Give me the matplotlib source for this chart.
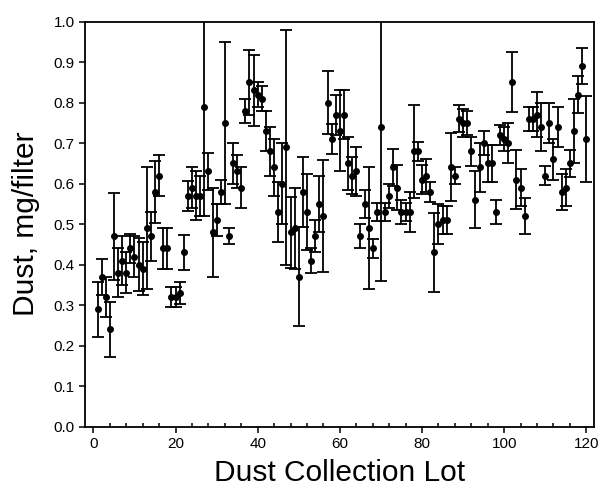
#%%
# ===============================================================
# ! Dust per filter with error bars, by collection lot
# ===============================================================
import numpy as np
import matplotlib
matplotlib.use("Agg")
import matplotlib.pyplot as plt
from matplotlib.ticker import MultipleLocator, FormatStrFormatter

# Lot numbers
lots = np.arange(1, 121)

# Mean dust (mg/filter)
dust = [0.29, 0.37, 0.32, 0.24, 0.47, 0.38, 0.41, 0.38, 0.44, 0.42,
        0.40, 0.39, 0.49, 0.47, 0.58, 0.62, 0.44, 0.44, 0.32, 0.32,
        0.33, 0.43, 0.57, 0.59, 0.57, 0.57, 0.79, 0.63, 0.48, 0.51,
        0.58, 0.75, 0.47, 0.65, 0.63, 0.59, 0.78, 0.85, 0.83, 0.82,
        0.81, 0.73, 0.68, 0.64, 0.53, 0.60, 0.69, 0.48, 0.49, 0.37,
        0.58, 0.53, 0.41, 0.47, 0.55, 0.52, 0.80, 0.71, 0.77, 0.73,
        0.77, 0.65, 0.62, 0.63, 0.47, 0.55, 0.49, 0.44, 0.53, 0.74,
        0.53, 0.57, 0.64, 0.59, 0.53, 0.53, 0.53, 0.68, 0.68, 0.61,
        0.62, 0.58, 0.43, 0.50, 0.51, 0.51, 0.64, 0.62, 0.76, 0.75,
        0.75, 0.68, 0.56, 0.64, 0.70, 0.65, 0.65, 0.53, 0.72, 0.71,
        0.70, 0.85, 0.61, 0.59, 0.52, 0.76, 0.76, 0.77, 0.74, 0.62,
        0.75, 0.66, 0.74, 0.58, 0.59, 0.65, 0.73, 0.82, 0.89, 0.71]

# Half-width of the error bars
dust_err = [0.068, 0.045, 0.050, 0.068, 0.108, 0.060, 0.060, 0.050, 0.035, 0.050,
            0.065, 0.065, 0.150, 0.060, 0.076, 0.050, 0.050, 0.050, 0.025, 0.025,
            0.027, 0.044, 0.037, 0.050, 0.060, 0.050, 0.270, 0.045, 0.110, 0.040,
            0.030, 0.200, 0.020, 0.050, 0.040, 0.050, 0.030, 0.080, 0.088, 0.030,
            0.030, 0.049, 0.060, 0.070, 0.074, 0.100, 0.290, 0.088, 0.100, 0.122,
            0.086, 0.095, 0.030, 0.040, 0.070, 0.138, 0.077, 0.038, 0.050, 0.100,
            0.060, 0.066, 0.045, 0.060, 0.030, 0.035, 0.150, 0.023, 0.022, 0.380,
            0.022, 0.030, 0.045, 0.055, 0.030, 0.022, 0.050, 0.115, 0.023, 0.035,
            0.040, 0.025, 0.097, 0.050, 0.034, 0.034, 0.084, 0.020, 0.033, 0.035,
            0.030, 0.036, 0.070, 0.060, 0.030, 0.045, 0.045, 0.030, 0.025, 0.030,
            0.050, 0.074, 0.073, 0.045, 0.045, 0.030, 0.030, 0.055, 0.060, 0.024,
            0.050, 0.050, 0.050, 0.045, 0.045, 0.033, 0.080, 0.045, 0.045, 0.107]

plt.rcParams['font.family'] = ['Liberation Sans', 'DejaVu Sans']

fig = plt.figure(figsize=(6, 4.91), dpi=100)
ax = fig.add_axes([0.142, 0.131, 0.8475, 0.825])

ax.errorbar(lots, dust, yerr=dust_err, fmt='o', color='black', ecolor='black',
            markersize=4, elinewidth=1.3, capsize=4.3, capthick=1.3)

ax.set_xlim(-2, 121.8)
ax.set_ylim(0, 1.0)
ax.xaxis.set_major_locator(MultipleLocator(20))
ax.xaxis.set_minor_locator(MultipleLocator(4))
ax.yaxis.set_major_locator(MultipleLocator(0.1))
ax.yaxis.set_major_formatter(FormatStrFormatter('%.1f'))

ax.tick_params(axis='both', which='major', direction='out', length=4, width=1.1, labelsize=11)
ax.tick_params(axis='x', which='minor', direction='in', length=3, width=1.1)
for s in ax.spines.values():
    s.set_linewidth(1.3)

ax.set_xlabel('Dust Collection Lot', fontsize=21.5, labelpad=6)
ax.set_ylabel('Dust, mg/filter', fontsize=21.5, labelpad=10)

fig.savefig('out.png', dpi=100)
